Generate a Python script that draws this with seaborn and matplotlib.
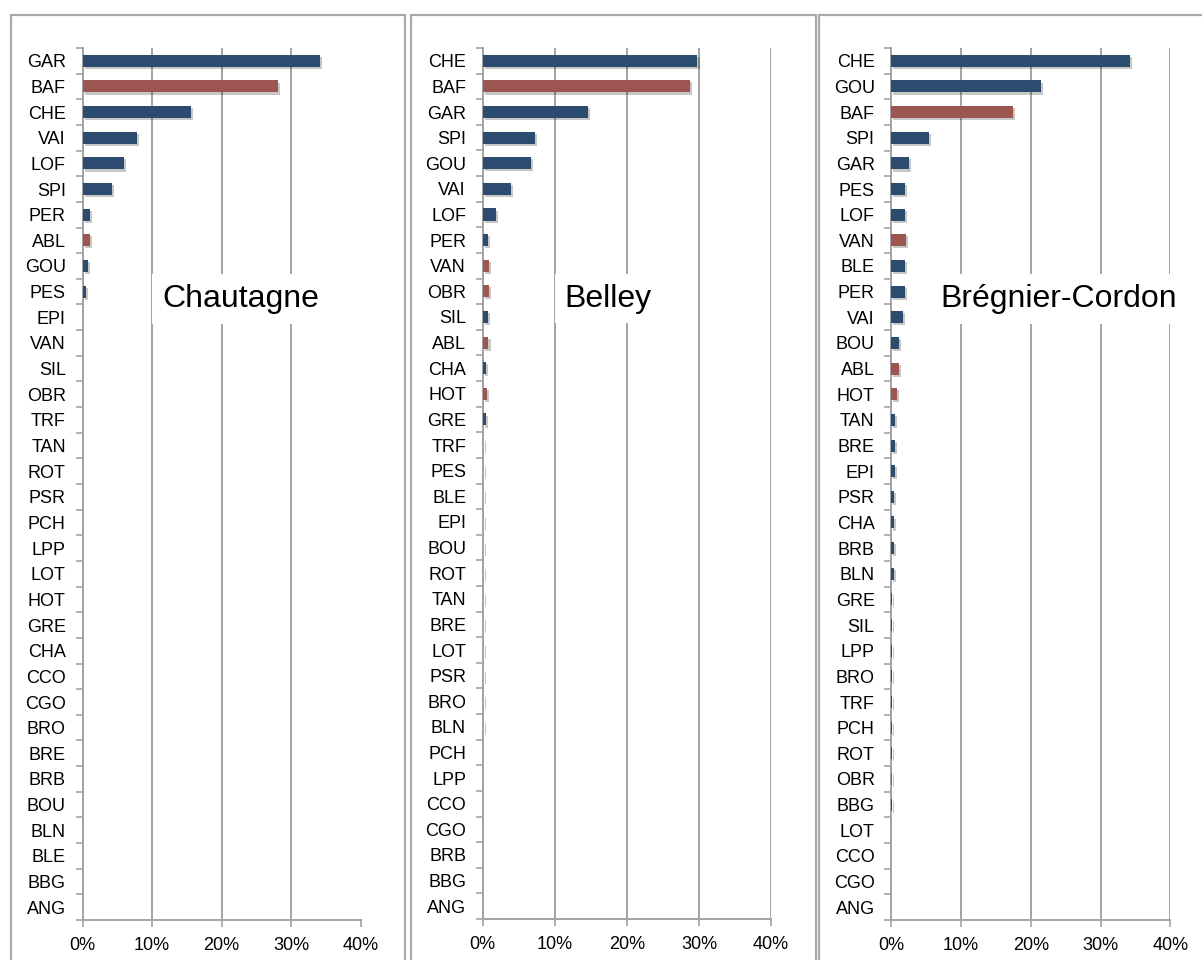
import matplotlib
matplotlib.use("Agg")
import matplotlib.pyplot as plt
import matplotlib.patheffects as pe
from matplotlib.patches import Rectangle
from matplotlib.ticker import FixedLocator, FuncFormatter
import pandas as pd
import seaborn as sns

# ---------------- data (percent of catch) ----------------
chautagne_species = ["GAR", "BAF", "CHE", "VAI", "LOF", "SPI", "PER", "ABL", "GOU", "PES",
                     "EPI", "VAN", "SIL", "OBR", "TRF", "TAN", "ROT", "PSR", "PCH", "LPP",
                     "LOT", "HOT", "GRE", "CHA", "CCO", "CGO", "BRO", "BRE", "BRB", "BOU",
                     "BLN", "BLE", "BBG", "ANG"]
chautagne_values = [34.2, 28.1, 15.6, 7.8, 6.0, 4.3, 1.05, 1.05, 0.8, 0.5,
                    0.12, 0.12, 0.1, 0.1, 0, 0, 0, 0, 0, 0,
                    0, 0, 0, 0, 0, 0, 0, 0, 0, 0,
                    0, 0, 0, 0]

belley_species = ["CHE", "BAF", "GAR", "SPI", "GOU", "VAI", "LOF", "PER", "VAN", "OBR",
                  "SIL", "ABL", "CHA", "HOT", "GRE", "TRF", "PES", "BLE", "EPI", "BOU",
                  "ROT", "TAN", "BRE", "LOT", "PSR", "BRO", "BLN", "PCH", "LPP", "CCO",
                  "CGO", "BRB", "BBG", "ANG"]
belley_values = [29.8, 28.8, 14.6, 7.3, 6.7, 3.9, 1.9, 0.75, 0.9, 0.85,
                 0.75, 0.8, 0.45, 0.6, 0.45, 0.1, 0.1, 0.1, 0.1, 0.1,
                 0.1, 0.1, 0.1, 0.1, 0.1, 0.1, 0.1, 0, 0, 0,
                 0, 0, 0, 0]

bregnier_species = ["CHE", "GOU", "BAF", "SPI", "GAR", "PES", "LOF", "VAN", "BLE", "PER",
                    "VAI", "BOU", "ABL", "HOT", "TAN", "BRE", "EPI", "PSR", "CHA", "BRB",
                    "BLN", "GRE", "SIL", "LPP", "BRO", "TRF", "PCH", "ROT", "OBR", "BBG",
                    "LOT", "CCO", "CGO", "ANG"]
bregnier_values = [34.2, 21.4, 17.5, 5.45, 2.55, 1.95, 1.95, 2.1, 1.95, 1.95,
                   1.65, 1.1, 1.05, 0.8, 0.48, 0.48, 0.48, 0.42, 0.42, 0.42,
                   0.42, 0.1, 0.1, 0.1, 0.1, 0.1, 0.1, 0.1, 0.1, 0.1,
                   0, 0, 0, 0]

highlighted_species = ["BAF", "ABL", "VAN", "OBR", "HOT"]

panel_titles = ["Chautagne", "Belley", "Brégnier-Cordon"]
x_ticks = [0, 10, 20, 30, 40]

# ---------------- style ----------------
sns.set_style("white")
plt.rcParams["font.family"] = ["Liberation Sans", "DejaVu Sans"]

BLUE = "#1F4A7B"
RED = "#A94A45"
GRID = "#A3A3A3"
palette = {"other": BLUE, "highlight": RED}

W, H = 1202, 960
fig = plt.figure(figsize=(W / 100, H / 100), dpi=100)

# panel frames (pixel coordinates converted to figure fractions)
frames = [(11, 15, 405), (411, 15, 816), (819, 15, 1215)]
for x0, y0, x1 in frames:
    fig.patches.append(Rectangle((x0 / W, -0.05), (x1 - x0) / W, 1 - y0 / H + 0.05,
                                 transform=fig.transFigure, fill=False,
                                 edgecolor="#AAAAAA", linewidth=1.6, zorder=0))

# axes positions in pixels: left, right, top, bottom
axes_px = [(82.5, 360.5, 48, 920), (482.7, 771, 48, 919), (891.3, 1170.3, 48, 920)]
title_pos = [0.568, 0.435, 0.601]

datasets = [(chautagne_species, chautagne_values),
            (belley_species, belley_values),
            (bregnier_species, bregnier_values)]

for (sp, vals), (l, r, t, b), title, tx in zip(datasets, axes_px, panel_titles, title_pos):
    ax = fig.add_axes([l / W, (H - b) / H, (r - l) / W, (b - t) / H])
    df = pd.DataFrame({"species": sp, "value": vals})
    df["group"] = ["highlight" if s in highlighted_species else "other" for s in sp]
    sns.barplot(data=df, x="value", y="species", hue="group", palette=palette,
                order=sp, orient="h", dodge=False, width=0.47, legend=False,
                ax=ax, zorder=3)
    for p in ax.patches:
        p.set_linewidth(0)
        if p.get_width() > 0:
            p.set_path_effects([pe.SimplePatchShadow(offset=(1.5, -1.5), shadow_rgbFace="k", alpha=0.22),
                                pe.Normal()])
        else:
            p.set_visible(False)

    n = len(sp)
    ax.set_xlim(0, 40)
    ax.set_ylim(n - 0.5, -0.5)
    ax.set_xlabel("")
    ax.set_ylabel("")

    ax.xaxis.set_major_locator(FixedLocator(x_ticks))
    ax.xaxis.set_major_formatter(FuncFormatter(lambda v, _: f"{v:.0f}%"))
    ax.grid(axis="x", color=GRID, linewidth=1.4, zorder=0)
    ax.grid(axis="y", visible=False)
    ax.set_axisbelow(True)

    ax.yaxis.set_minor_locator(FixedLocator([i - 0.5 for i in range(n + 1)]))
    ax.tick_params(axis="y", which="major", length=0, pad=12, labelsize=13, labelcolor="black")
    ax.tick_params(axis="y", which="minor", length=5, width=1.2, color=GRID, direction="out", left=True)
    ax.tick_params(axis="x", which="major", length=5, width=1.2, color=GRID, direction="out",
                   bottom=True, pad=7, labelsize=13, labelcolor="black")

    for side in ["top", "right"]:
        ax.spines[side].set_visible(False)
    for side in ["left", "bottom"]:
        ax.spines[side].set_color(GRID)
        ax.spines[side].set_linewidth(1.4)

    ax.text(tx, 0.703, title, transform=ax.transAxes, ha="center", va="baseline",
            fontsize=23, color="black", zorder=5,
            bbox=dict(boxstyle="square,pad=0.3", facecolor="white", edgecolor="none"))

fig.savefig("out.png", dpi=100)
